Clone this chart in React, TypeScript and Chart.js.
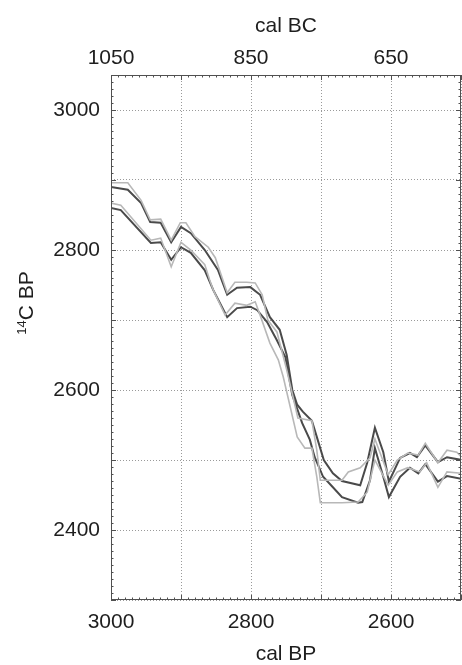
import React, { useEffect, useRef } from "react";
import { Chart, registerables } from "chart.js";

Chart.register(...registerables);

// cal BP (x) and 14C BP (y) for the four curves
const darkUpperBP = [3000, 2976, 2957, 2944, 2929, 2914, 2900, 2886, 2866, 2847, 2834, 2820, 2801, 2787, 2773, 2759, 2749, 2741, 2734, 2726, 2713, 2706, 2696, 2683, 2670, 2644, 2634, 2623, 2611, 2603, 2587, 2573, 2563, 2551, 2533, 2520, 2499];
const darkUpperC = [2890, 2886, 2867, 2840, 2839, 2811, 2833, 2824, 2800, 2771, 2736, 2746, 2747, 2736, 2704, 2686, 2650, 2600, 2579, 2569, 2556, 2533, 2500, 2481, 2470, 2464, 2496, 2546, 2511, 2469, 2503, 2510, 2504, 2521, 2497, 2504, 2500];

const darkLowerBP = [3000, 2986, 2943, 2929, 2914, 2900, 2886, 2866, 2854, 2834, 2820, 2801, 2791, 2777, 2763, 2751, 2741, 2727, 2716, 2709, 2697, 2683, 2670, 2647, 2641, 2630, 2623, 2611, 2603, 2587, 2573, 2561, 2551, 2533, 2520, 2499];
const darkLowerC = [2860, 2857, 2810, 2811, 2786, 2804, 2796, 2771, 2743, 2704, 2717, 2719, 2714, 2697, 2671, 2647, 2593, 2553, 2529, 2504, 2476, 2461, 2447, 2439, 2440, 2471, 2517, 2476, 2447, 2476, 2489, 2481, 2494, 2469, 2477, 2473];

const lightUpperBP = [3000, 2976, 2957, 2944, 2929, 2914, 2901, 2893, 2880, 2861, 2851, 2834, 2823, 2806, 2794, 2784, 2776, 2763, 2749, 2733, 2713, 2706, 2701, 2670, 2661, 2644, 2630, 2623, 2604, 2591, 2576, 2561, 2551, 2533, 2520, 2506, 2499];
const lightUpperC = [2896, 2896, 2871, 2843, 2844, 2814, 2839, 2839, 2819, 2804, 2789, 2739, 2754, 2754, 2753, 2736, 2700, 2683, 2629, 2560, 2556, 2514, 2471, 2471, 2483, 2489, 2503, 2530, 2479, 2500, 2510, 2507, 2524, 2496, 2514, 2511, 2504];

const lightLowerBP = [3000, 2986, 2943, 2929, 2914, 2900, 2886, 2866, 2859, 2854, 2837, 2823, 2806, 2794, 2787, 2773, 2761, 2754, 2734, 2723, 2713, 2706, 2701, 2670, 2647, 2634, 2623, 2604, 2591, 2576, 2559, 2549, 2533, 2520, 2499];
const lightLowerC = [2867, 2864, 2814, 2817, 2776, 2811, 2800, 2779, 2757, 2743, 2707, 2724, 2721, 2726, 2707, 2667, 2643, 2619, 2533, 2517, 2517, 2476, 2439, 2439, 2440, 2454, 2500, 2464, 2483, 2489, 2483, 2496, 2461, 2483, 2481];

// axis ticks
const bpGrid = [2500, 2600, 2700, 2800, 2900, 3000];
const bpLabels = [3000, 2800, 2600];
const bcLabels = [1050, 850, 650];
const cGrid = [2300, 2400, 2500, 2600, 2700, 2800, 2900, 3000];
const cLabels = [2400, 2600, 2800, 3000];

const FONT = "'Liberation Sans', Arial, Helvetica, sans-serif";
const DARK = "#4a4a4a";
const LIGHT = "#b8b8b8";
const TEXT = "#1e1e1e";

function toPoints(xs: number[], ys: number[]) {
  return xs.map((x, i) => ({ x, y: ys[i] }));
}

const framePlugin = {
  id: "frame",
  afterDatasetsDraw(chart: any) {
    const { ctx, chartArea: a, scales } = chart;
    ctx.save();
    ctx.strokeStyle = "#505050";
    ctx.lineWidth = 1;
    ctx.strokeRect(Math.round(a.left) + 0.5, Math.round(a.top) + 0.5, Math.round(a.right - a.left) - 1, Math.round(a.bottom - a.top) - 1);
    ctx.beginPath();
    for (let v = 2500; v <= 3000; v += 10) {
      const px = Math.round(scales.x.getPixelForValue(v)) + 0.5;
      const len = v % 100 === 0 ? 5 : 2.5;
      ctx.moveTo(px, a.bottom);
      ctx.lineTo(px, a.bottom - len);
      ctx.moveTo(px, a.top);
      ctx.lineTo(px, a.top + len);
    }
    for (let v = 2300; v <= 3050; v += 10) {
      const py = Math.round(scales.y.getPixelForValue(v)) + 0.5;
      const len = v % 100 === 0 ? 5 : 2.5;
      ctx.moveTo(a.left, py);
      ctx.lineTo(a.left + len, py);
      ctx.moveTo(a.right, py);
      ctx.lineTo(a.right - len, py);
    }
    ctx.stroke();
    ctx.restore();
  },
  afterDraw(chart: any) {
    const { ctx } = chart;
    ctx.save();
    ctx.fillStyle = TEXT;
    ctx.translate(33, 303);
    ctx.rotate(-Math.PI / 2);
    ctx.textBaseline = "alphabetic";
    ctx.textAlign = "left";
    ctx.font = `13px ${FONT}`;
    const sup = "14";
    const wSup = ctx.measureText(sup).width;
    ctx.font = `21px ${FONT}`;
    const main = "C BP";
    const wMain = ctx.measureText(main).width;
    const start = -(wSup + wMain) / 2;
    ctx.font = `13px ${FONT}`;
    ctx.fillText(sup, start, -7);
    ctx.font = `21px ${FONT}`;
    ctx.fillText(main, start + wSup, 0);
    ctx.restore();
  },
};

export default function App() {
  const ref = useRef<HTMLCanvasElement>(null);
  useEffect(() => {
    if (!ref.current) return;
    const mk = (xs: number[], ys: number[], color: string, w: number) => ({
      data: toPoints(xs, ys),
      borderColor: color,
      borderWidth: w,
      pointRadius: 0,
      tension: 0,
      fill: false,
    });
    const chart = new Chart(ref.current, {
      type: "line",
      data: {
        datasets: [
          mk(lightUpperBP, lightUpperC, LIGHT, 1.6),
          mk(lightLowerBP, lightLowerC, LIGHT, 1.6),
          mk(darkUpperBP, darkUpperC, DARK, 2),
          mk(darkLowerBP, darkLowerC, DARK, 2),
        ],
      },
      options: {
        animation: false,
        responsive: false,
        maintainAspectRatio: false,
        layout: { padding: { left: 0, right: 1, top: 0, bottom: 0 } },
        plugins: { legend: { display: false }, tooltip: { enabled: false } },
        scales: {
          x: {
            type: "linear",
            position: "bottom",
            min: 2500,
            max: 3000,
            reverse: true,
            afterBuildTicks: (s: any) => {
              s.ticks = bpGrid.map((v) => ({ value: v }));
            },
            afterFit: (s: any) => {
              s.height = 65;
            },
            ticks: {
              autoSkip: false,
              maxRotation: 0,
              padding: 10,
              color: TEXT,
              font: { family: FONT, size: 21 },
              callback: (v: any) => (bpLabels.includes(Number(v)) ? String(v) : ""),
            },
            grid: { color: "#9a9a9a", lineWidth: 1, drawTicks: false },
            border: { display: false, dash: [1, 2] },
            title: {
              display: true,
              text: "cal BP",
              color: TEXT,
              font: { family: FONT, size: 21, lineHeight: 1.0 },
              padding: { top: 0, bottom: 0 },
            },
          },
          x2: {
            type: "linear",
            position: "top",
            min: 550,
            max: 1050,
            reverse: true,
            afterBuildTicks: (s: any) => {
              s.ticks = bcLabels.map((v) => ({ value: v }));
            },
            afterFit: (s: any) => {
              s.height = 75;
            },
            ticks: {
              autoSkip: false,
              maxRotation: 0,
              padding: 4,
              color: TEXT,
              font: { family: FONT, size: 21 },
              callback: (v: any) => String(v),
            },
            grid: { display: false, drawTicks: false },
            border: { display: false },
            title: {
              display: true,
              text: "cal BC",
              color: TEXT,
              font: { family: FONT, size: 21 },
              padding: { top: 14, bottom: 0 },
            },
          },
          y: {
            type: "linear",
            position: "left",
            min: 2300,
            max: 3050,
            afterBuildTicks: (s: any) => {
              s.ticks = cGrid.map((v) => ({ value: v }));
            },
            afterFit: (s: any) => {
              s.width = 111;
            },
            ticks: {
              autoSkip: false,
              padding: 11,
              color: TEXT,
              font: { family: FONT, size: 21 },
              callback: (v: any) => (cLabels.includes(Number(v)) ? String(v) : ""),
            },
            grid: { color: "#9a9a9a", lineWidth: 1, drawTicks: false },
            border: { display: false, dash: [1, 2] },
          },
        },
      },
      plugins: [framePlugin],
    } as any);
    return () => chart.destroy();
  }, []);
  return (
    <div style={{ position: "fixed", left: 0, top: 0, width: 462, height: 665, background: "#fff" }}>
      <canvas ref={ref} width={462} height={665} style={{ width: 462, height: 665, display: "block" }} />
    </div>
  );
}
